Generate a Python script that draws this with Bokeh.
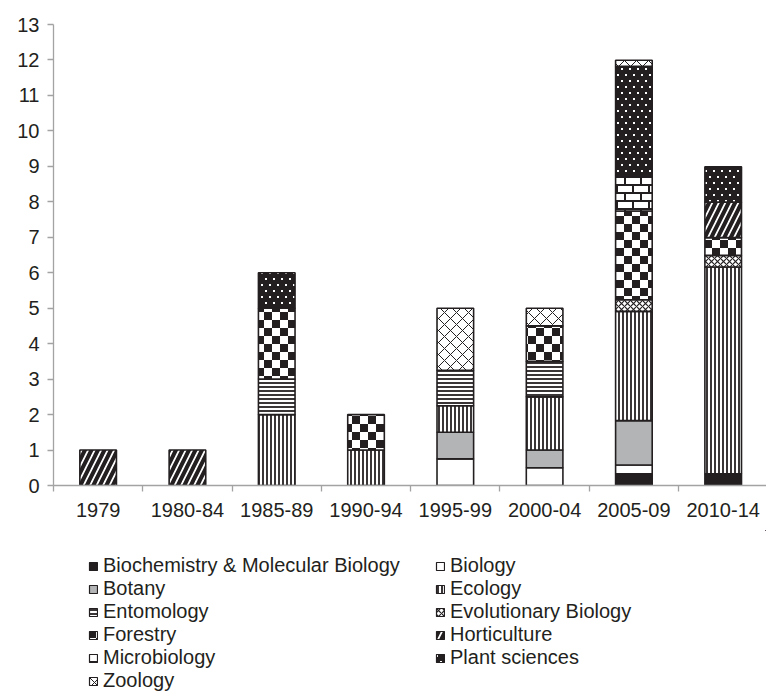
import numpy as np
from bokeh.plotting import figure
from bokeh.layouts import column
from bokeh.models import (ColumnDataSource, FixedTicker, Legend, LegendItem,
                          CanvasTexture, Range1d)
from bokeh.core.properties import value
from bokeh.embed import file_html
from bokeh.resources import INLINE

# ---------------- data ----------------
periods = ["1979", "1980-84", "1985-89", "1990-94", "1995-99", "2000-04", "2005-09", "2010-14"]
fields = ["Biochemistry & Molecular Biology", "Biology", "Botany", "Ecology", "Entomology",
          "Evolutionary Biology", "Forestry", "Horticulture", "Microbiology",
          "Plant sciences", "Zoology"]

biochem      = [0, 0, 0, 0, 0,    0,   0.33, 0.33]
biology      = [0, 0, 0, 0, 0.75, 0.5, 0.25, 0]
botany       = [0, 0, 0, 0, 0.75, 0.5, 1.25, 0]
ecology      = [0, 0, 2, 1, 0.75, 1.5, 3.08, 5.83]
entomology   = [0, 0, 1, 0, 1,    1,   0,    0]
evolutionary = [0, 0, 0, 0, 0,    0,   0.33, 0.33]
forestry     = [0, 0, 2, 1, 0,    1,   2.5,  0.5]
horticulture = [1, 1, 0, 0, 0,    0,   0,    1]
microbiology = [0, 0, 0, 0, 0,    0,   1,    0]
plant        = [0, 0, 1, 0, 0,    0,   3.08, 1]
zoology      = [0, 0, 0, 0, 1.75, 0.5, 0.17, 0]

series = [biochem, biology, botany, ecology, entomology, evolutionary,
          forestry, horticulture, microbiology, plant, zoology]
y_ticks = list(range(0, 14))

# ---------------- styles ----------------
INK = "#231f20"
GREY_AXIS = "#a3a3a3"
FONT = "Liberation Sans"

checker = CanvasTexture(code="""
const S = 16;
ctx.canvas.width = S; ctx.canvas.height = S;
ctx.setTransform(1, 0, 0, 1, 0, 0);
ctx.fillStyle = '#ffffff'; ctx.fillRect(0, 0, S, S);
ctx.fillStyle = '#231f20'; const h = S / 2;
ctx.fillRect(0, 0, h, h); ctx.fillRect(h, h, h, h);
""")
brick = CanvasTexture(code="""
const S = 32;
ctx.canvas.width = S; ctx.canvas.height = S;
ctx.setTransform(1, 0, 0, 1, 0, 0);
const r = S / 4, w = S / 2;
ctx.fillStyle = '#ffffff'; ctx.fillRect(0, 0, S, S);
ctx.fillStyle = '#231f20';
for (let i = 0; i < 4; i++) {
  const y = i * r;
  ctx.fillRect(0, y, S, 2);
  const off = (i % 2) * w / 2;
  for (let x = off; x < S; x += w) { ctx.fillRect(x, y, 2, r); }
}
""")
dots = CanvasTexture(code="""
const S = 24;
ctx.canvas.width = S; ctx.canvas.height = S;
ctx.setTransform(1, 0, 0, 1, 0, 0);
ctx.fillStyle = '#231f20'; ctx.fillRect(0, 0, S, S);
ctx.fillStyle = '#ffffff';
const px = S / 3, py = S / 4;
for (let j = 0; j < 4; j++) {
  const off = (j % 2) * px / 2;
  for (let i = 0; i < 3; i++) {
    ctx.fillRect(Math.round(px / 4 + off + i * px) - 1, Math.round(py / 2 + j * py) - 1, 2, 2);
  }
}
""")
extra = {"checker": checker, "brick": brick, "dots": dots}

styles = [
    dict(fill_color=INK),
    dict(fill_color="white"),
    dict(fill_color="#b3b4b6"),
    dict(fill_color="white", hatch_pattern="vertical_line", hatch_color=INK, hatch_scale=4, hatch_weight=1.8),
    dict(fill_color="white", hatch_pattern="horizontal_line", hatch_color=INK, hatch_scale=4, hatch_weight=1.8),
    dict(fill_color="white", hatch_pattern="diagonal_cross", hatch_color=INK, hatch_scale=6, hatch_weight=1.2),
    dict(fill_color="white", hatch_pattern=value("checker"), hatch_color=INK, hatch_scale=16, hatch_weight=16),
    dict(fill_color="white", hatch_pattern="right_diagonal_line", hatch_color=INK, hatch_scale=13, hatch_weight=4),
    dict(fill_color="white", hatch_pattern=value("brick"), hatch_color=INK, hatch_scale=32, hatch_weight=32),
    dict(fill_color=INK, hatch_pattern=value("dots"), hatch_color="white", hatch_scale=24, hatch_weight=24),
    dict(fill_color="white", hatch_pattern="diagonal_cross", hatch_color=INK, hatch_scale=12, hatch_weight=1),
]

# ---------------- main chart ----------------
centers = [i + 0.5 for i in range(len(periods))]
bounds = list(range(len(periods)))

p = figure(width=766, height=530, output_backend="svg", toolbar_location=None,
           x_range=Range1d(0, 7.985), y_range=Range1d(0, 13),
           min_border_left=53, min_border_right=0, min_border_top=24,
           min_border_bottom=45)
p.outline_line_color = None
p.xgrid.visible = False
p.ygrid.visible = False

stack = np.array(series, dtype=float)
tops = np.cumsum(stack, axis=0)
bottoms = tops - stack

sources = []
for i, name in enumerate(fields):
    mask = stack[i] > 0
    src = ColumnDataSource(dict(
        x=[c for c, m in zip(centers, mask) if m],
        bottom=list(bottoms[i][mask]),
        top=list(tops[i][mask]),
    ))
    sources.append(src)
    p.vbar(x="x", bottom="bottom", top="top", width=0.41, source=src,
           line_color=INK, line_width=1.6, hatch_extra=extra, **styles[i])

xa = p.xaxis[0]
xa.ticker = FixedTicker(ticks=centers, minor_ticks=bounds)
xa.major_label_overrides = {c: lab for c, lab in zip(centers, periods)}
xa.major_tick_out = 0
xa.major_tick_in = 0
xa.minor_tick_out = 6
xa.minor_tick_in = 0
xa.minor_tick_line_color = GREY_AXIS
xa.minor_tick_line_width = 1.3
xa.major_label_standoff = 11

ya = p.yaxis[0]
ya.ticker = FixedTicker(ticks=y_ticks)
ya.major_tick_out = 6
ya.major_tick_in = 0
ya.minor_tick_line_color = None
ya.major_tick_line_color = GREY_AXIS
ya.major_tick_line_width = 1.3
ya.major_label_standoff = 8

for ax in (xa, ya):
    ax.axis_line_color = GREY_AXIS
    ax.axis_line_width = 1.3
    ax.major_label_text_font = FONT
    ax.major_label_text_font_size = "20px"
    ax.major_label_text_color = INK

# ---------------- legend strip (same sources, viewed off-range) ----------------
pl = figure(width=766, height=163, output_backend="svg", toolbar_location=None,
            x_range=Range1d(-30, -29), y_range=Range1d(-30, -29),
            x_axis_type=None, y_axis_type=None, min_border=0)
pl.outline_line_color = None
pl.xgrid.visible = False
pl.ygrid.visible = False

items = []
for i, name in enumerate(fields):
    r = pl.vbar(x="x", bottom="bottom", top="top", width=0.41, source=sources[i],
                line_color=INK, line_width=1.2, hatch_extra=extra, **styles[i])
    items.append(LegendItem(label=name, renderers=[r]))

leg = Legend(items=items, location=(35, 1), orientation="horizontal", ncols=2,
             label_text_font=FONT, label_text_font_size="20px", label_text_color=INK,
             glyph_width=10, glyph_height=10, label_height=23, label_width=332,
             label_standoff=5, spacing=0, padding=0, margin=0,
             border_line_color=None, background_fill_alpha=0)
pl.add_layout(leg)

open("out.html", "w").write(file_html(column(p, pl, spacing=0), INLINE))
